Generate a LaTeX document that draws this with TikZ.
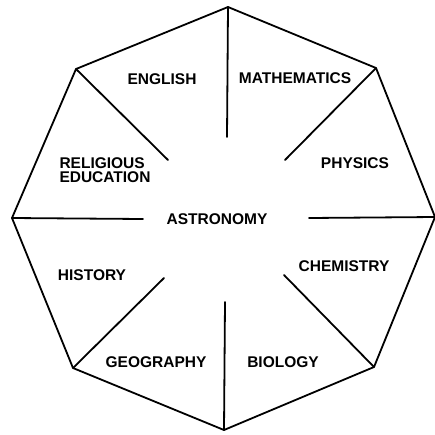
\documentclass[tikz,border=0pt]{standalone}
\usepackage{fontspec}
\setmainfont{Liberation Sans}
\begin{document}
\begin{tikzpicture}[x=1pt,y=-1pt,
    subj/.style={font=\bfseries\fontsize{15.5}{14.5}\selectfont, inner sep=0pt},
    edge/.style={line width=1.8pt, line join=round, line cap=round}]
    \useasboundingbox (0,0) rectangle (435,434);
    % octagon corners
    \coordinate (T) at (228,7);
    \coordinate (TR) at (376,68);
    \coordinate (R) at (435,217);
    \coordinate (BR) at (374,367);
    \coordinate (B) at (224,430);
    \coordinate (BL) at (73,368);
    \coordinate (L) at (12,218);
    \coordinate (TL) at (76,69);
    % inner ends of the spokes
    \coordinate (t) at (227,137);
    \coordinate (tr) at (285,160);
    \coordinate (r) at (309,218);
    \coordinate (br) at (284,275);
    \coordinate (b) at (225,302);
    \coordinate (bl) at (164,278);
    \coordinate (l) at (143,219);
    \coordinate (tl) at (168,160);
    \draw[edge] (T) -- (TR) -- (R) -- (BR) -- (B) -- (BL) -- (L) -- (TL) -- cycle;
    \draw[edge] (T) -- (t);
    \draw[edge] (TR) -- (tr);
    \draw[edge] (R) -- (r);
    \draw[edge] (BR) -- (br);
    \draw[edge] (B) -- (b);
    \draw[edge] (BL) -- (bl);
    \draw[edge] (L) -- (l);
    \draw[edge] (TL) -- (tl);
    % subjects
    \node[subj] (astro) at (217,219) {ASTRONOMY};
    \node[subj] (eng) at (162,79) {ENGLISH};
    \node[subj] (maths) at (295,78) {MATHEMATICS};
    \node[subj] (phys) at (355,163) {PHYSICS};
    \node[subj] (chem) at (344,266) {CHEMISTRY};
    \node[subj] (bio) at (283,362) {BIOLOGY};
    \node[subj] (geog) at (156,362) {GEOGRAPHY};
    \node[subj] (hist) at (92,275) {HISTORY};
    \node[subj, align=left] (re) at (105,170) {RELIGIOUS\\EDUCATION};
\end{tikzpicture}
\end{document}
